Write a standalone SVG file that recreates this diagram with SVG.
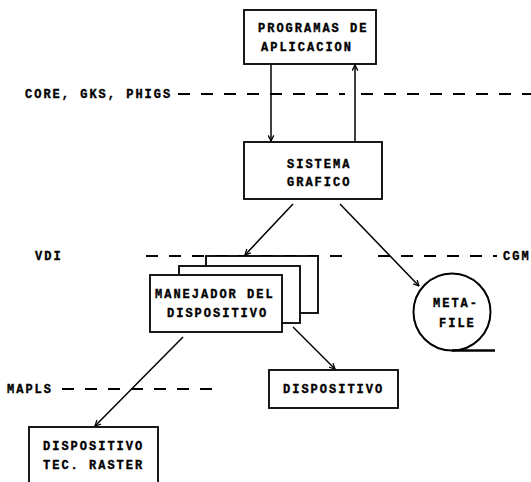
<svg xmlns="http://www.w3.org/2000/svg" width="531" height="482" viewBox="0 0 531 482">
  <style>
    .box { fill: #fff; stroke: #000; stroke-width: 1.8; }
    .lbl { font-family: "Liberation Mono", "DejaVu Sans Mono", monospace; font-weight: bold; font-size: 12px; letter-spacing: 2px; fill: #000; stroke: #000; stroke-width: 0.35; }
    .dash { stroke: #000; stroke-width: 1.8; stroke-dasharray: 12 11; fill: none; }
    .arr { stroke: #000; stroke-width: 1.5; fill: none; marker-end: url(#head); }
  </style>
  <defs>
    <marker id="head" viewBox="0 0 10 10" refX="9" refY="5" markerWidth="7" markerHeight="7" markerUnits="userSpaceOnUse" orient="auto">
      <path d="M1,1 L9,5 L1,9" fill="none" stroke="#000" stroke-width="1.8"/>
    </marker>
  </defs>
  <rect width="531" height="482" fill="#fff"/>

  <!-- interface levels -->
  <g id="levels">
    <text class="lbl" x="25" y="98">CORE, GKS, PHIGS</text>
    <line class="dash" x1="178" y1="94" x2="345" y2="94"/>
    <line class="dash" x1="361" y1="94" x2="531" y2="94"/>
    <text class="lbl" x="35" y="260">VDI</text>
    <line class="dash" x1="146" y1="256" x2="353" y2="256"/>
    <line class="dash" x1="378" y1="256" x2="497" y2="256"/>
    <text class="lbl" x="503" y="260">CGM</text>
    <text class="lbl" x="7" y="393">MAPLS</text>
    <line class="dash" x1="62" y1="389" x2="222" y2="389"/>
  </g>

  <g id="programas">
    <rect class="box" x="244" y="10" width="132" height="54"/>
    <text class="lbl" x="258" y="32">PROGRAMAS DE</text>
    <text class="lbl" x="261" y="51">APLICACION</text>
  </g>

  <g id="sistema">
    <rect class="box" x="244" y="142" width="138" height="57"/>
    <text class="lbl" x="287" y="168">SISTEMA</text>
    <text class="lbl" x="287" y="186">GRAFICO</text>
  </g>

  <g id="manejador">
    <rect class="box" x="206" y="256" width="112" height="57"/>
    <rect class="box" x="179" y="266" width="121" height="57"/>
    <rect class="box" x="150" y="275" width="132" height="57"/>
    <text class="lbl" x="155" y="298">MANEJADOR DEL</text>
    <text class="lbl" x="167" y="317">DISPOSITIVO</text>
  </g>

  <g id="metafile">
    <circle cx="452" cy="312" r="38.5" fill="#fff" stroke="#000" stroke-width="2"/>
    <path d="M452,350.5 L495,350.5" stroke="#000" stroke-width="2.6" fill="none"/>
    <text class="lbl" x="433" y="307">META-</text>
    <text class="lbl" x="439" y="327">FILE</text>
  </g>

  <g id="dispositivo">
    <rect class="box" x="269" y="370" width="129" height="38"/>
    <text class="lbl" x="283" y="393">DISPOSITIVO</text>
  </g>

  <g id="raster">
    <rect class="box" x="29" y="427" width="129" height="65"/>
    <text class="lbl" x="43" y="450">DISPOSITIVO</text>
    <text class="lbl" x="43" y="469">TEC. RASTER</text>
  </g>

  <g id="connectors">
    <line class="arr" x1="271" y1="64" x2="271" y2="141"/>
    <line class="arr" x1="355" y1="142" x2="355" y2="65"/>
    <line class="arr" x1="293" y1="204" x2="245" y2="255"/>
    <line class="arr" x1="340" y1="204" x2="419" y2="286"/>
    <line class="arr" x1="183" y1="337" x2="95" y2="426"/>
    <line class="arr" x1="293" y1="327" x2="335" y2="369"/>
  </g>
</svg>
